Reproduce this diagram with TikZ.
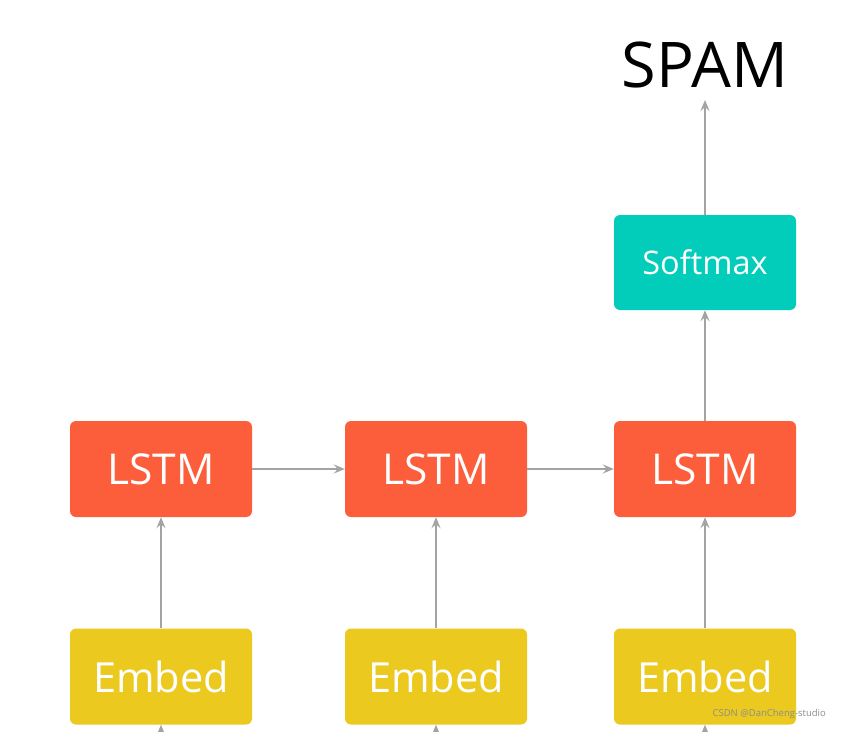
\documentclass[tikz,border=0pt]{standalone}
\usepackage{fontspec}
\setmainfont{Open Sans}
\usetikzlibrary{arrows.meta}
\definecolor{lstmc}{HTML}{FC5E3C}
\definecolor{embc}{HTML}{EBC91E}
\definecolor{softc}{HTML}{02CDBA}
\definecolor{arrc}{HTML}{A3A3A3}
\tikzset{
  blk/.style={rounded corners=6pt, minimum width=182pt, minimum height=96pt, inner sep=0pt, text=white},
  lstmbox/.style={blk, fill=lstmc, font=\fontsize{42.5}{46}\selectfont},
  embbox/.style={blk, fill=embc, font=\fontsize{41.5}{46}\selectfont},
  softbox/.style={blk, fill=softc, minimum height=95pt, font=\fontsize{32.5}{36}\selectfont},
  conn/.style={draw=arrc, line width=2.4pt, -{Stealth[length=11pt, width=9pt, inset=4pt]}},
}
\begin{document}
\begin{tikzpicture}[x=1pt, y=-1pt]
\useasboundingbox (0,0) rectangle (842,731);
\fill[white] (0,0) rectangle (842,731);
\clip (0,0) rectangle (842,731);
\node[lstmbox] (l1) at (161,469) {LSTM};
\node[lstmbox] (l2) at (436,469) {LSTM};
\node[lstmbox] (l3) at (705,469) {LSTM};
\node[embbox] (e1) at (161,676.5) {Embed};
\node[embbox] (e2) at (436,676.5) {Embed};
\node[embbox] (e3) at (705,676.5) {Embed};
\node[softbox] (sm) at (705,262.5) {Softmax};
\node[inner sep=0pt, font=\fontsize{63}{68}\selectfont] (spam) at (705,65) {SPAM};
\coordinate (s1) at (161,790);
\coordinate (s2) at (436,790);
\coordinate (s3) at (705,790);
\coordinate (top) at (705,100);
\draw[conn] (s1) -- (e1);
\draw[conn] (s2) -- (e2);
\draw[conn] (s3) -- (e3);
\draw[conn] (e1) -- (l1);
\draw[conn] (e2) -- (l2);
\draw[conn] (e3) -- (l3);
\draw[conn] (l1) -- (l2);
\draw[conn] (l2) -- (l3);
\draw[conn] (l3) -- (sm);
\draw[conn] (sm) -- (top);
\node[anchor=east, inner sep=0pt, text=black!45, font=\fontsize{9.5}{11}\selectfont] (wm) at (826,714) {CSDN @DanCheng-studio};
\end{tikzpicture}
\end{document}
